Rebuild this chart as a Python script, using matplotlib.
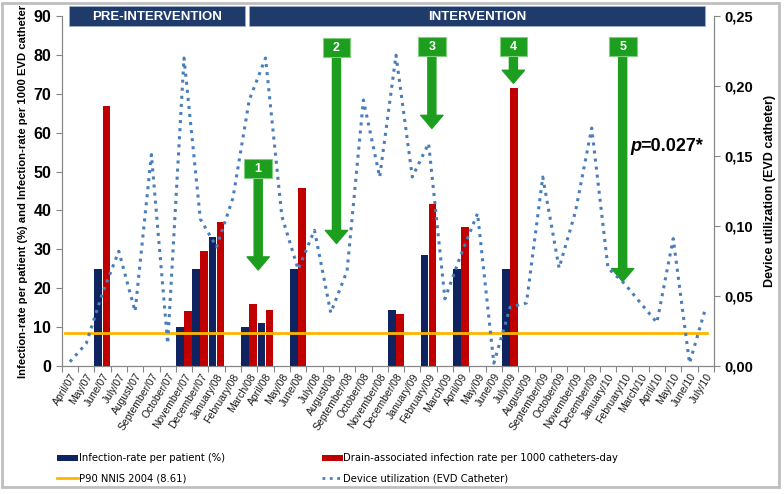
import matplotlib
matplotlib.use("Agg")
import matplotlib.pyplot as plt
from matplotlib.patches import Rectangle
from matplotlib.lines import Line2D
from matplotlib.ticker import FuncFormatter, MultipleLocator
import matplotlib.transforms as mtransforms
import numpy as np

# month labels (x axis)
months = ["April/07", "May/07", "June/07", "July/07", "August/07", "September/07",
          "October/07", "November/07", "December/07", "January/08", "February/08",
          "March/08", "April/08", "May/08", "June/08", "July/08", "August/08",
          "September/08", "October/08", "November/08", "December/08", "January/09",
          "February/09", "March/09", "April/09", "May/09", "June/09", "July/09",
          "August/09", "September/09", "October/09", "November/09", "December/09",
          "January/10", "February/10", "March/10", "April/10", "May/10", "June/10",
          "July/10"]

# infection-rate per patient (%)
rate_patient = [0, 0, 25, 0, 0, 0, 0, 10, 25, 33.3, 0, 10, 11.1, 0, 25, 0, 0, 0, 0, 0,
                14.3, 0, 28.6, 0, 25, 0, 0, 25, 0, 0, 0, 0, 0, 0, 0, 0, 0, 0, 0, 0]

# drain-associated infection rate per 1000 catheter-days
rate_drain = [0, 0, 66.8, 0, 0, 0, 0, 14.1, 29.6, 37.1, 0, 16.0, 14.4, 0, 45.7, 0, 0, 0, 0, 0,
              13.5, 0, 41.6, 0, 35.8, 0, 0, 71.5, 0, 0, 0, 0, 0, 0, 0, 0, 0, 0, 0, 0]

# device utilization (right axis)
device_util = [0.003, 0.016, 0.052, 0.082, 0.039, 0.151, 0.016, 0.220, 0.105, 0.085,
               0.120, 0.190, 0.220, 0.107, 0.069, 0.097, 0.038, 0.068, 0.190, 0.135,
               0.222, 0.135, 0.159, 0.048, 0.080, 0.109, 0.002, 0.042, 0.045, 0.135,
               0.070, 0.110, 0.170, 0.070, 0.059, 0.045, 0.031, 0.091, 0.002, 0.042]

p90_nnis = 8.61

# numbered intervention arrows: x position, arrow tip, box top (left-axis units)
arrow_labels = ["1", "2", "3", "4", "5"]
arrow_x = [11.55, 16.35, 22.2, 27.2, 33.9]
arrow_tip = [24.7, 31.5, 61.1, 72.7, 21.7]
box_top = [53.2, 84.3, 84.6, 84.6, 84.6]

navy = '#0F2361'
red = '#C00000'
orange = '#FFB400'
blue_dot = '#4A7EBB'
green = '#1E9E1E'

plt.rcParams['font.family'] = ['Liberation Sans', 'DejaVu Sans']

fig = plt.figure(figsize=(7.84, 4.94), dpi=100)
ax = fig.add_axes([0.0787, 0.2591, 0.832, 0.7085])
ax2 = ax.twinx()

x = np.arange(len(months))
ax.bar(x - 0.26, rate_patient, width=0.46, color=navy, zorder=3)
ax.bar(x + 0.24, rate_drain, width=0.46, color=red, zorder=3)
ax.axhline(p90_nnis, xmin=0.005, xmax=0.99, color=orange, linewidth=2, zorder=4)
ax2.plot(x, device_util, color=blue_dot, linestyle=':', linewidth=2.2, zorder=2)

ax.set_xlim(-0.5, len(months) - 0.5)
ax.set_ylim(0, 90)
ax2.set_ylim(0, 0.25)
ax.yaxis.set_major_locator(MultipleLocator(10))
ax2.yaxis.set_major_locator(MultipleLocator(0.05))
ax2.yaxis.set_major_formatter(FuncFormatter(lambda v, p: f"{v:.2f}".replace('.', ',')))

# ticks at category boundaries, labels centred under each month
ax.set_xticks(np.arange(-0.5, len(months), 1.0))
ax.set_xticklabels([])
ax.set_xticks(x, minor=True)
ax.set_xticklabels(months, minor=True, rotation=58, ha='right', rotation_mode='anchor',
                   fontsize=7.5, color='#1a1a1a')
ax.tick_params(axis='x', which='major', length=4, color='#868686')
ax.tick_params(axis='x', which='minor', length=0, pad=4)
ax.tick_params(axis='y', length=4, color='#868686', labelsize=11.5)
ax2.tick_params(axis='y', length=4, color='#868686', labelsize=10.5)
for lab in ax.get_yticklabels() + ax2.get_yticklabels():
    lab.set_fontweight('bold')

for a in (ax, ax2):
    a.spines['top'].set_visible(False)
    for s in ('left', 'right', 'bottom'):
        a.spines[s].set_color('#868686')

ax.set_ylabel('Infection-rate per patient (%) and Infection-rate per 1000 EVD catheter',
              fontsize=8.1, fontweight='bold', labelpad=4)
ax2.set_ylabel('Device utilization (EVD catheter)', fontsize=9, fontweight='bold', labelpad=8)

# phase banners across the top
banner_tr = mtransforms.blended_transform_factory(ax.transData, fig.transFigure)
for x0, x1, txt in [(-0.03, 10.75, 'PRE-INTERVENTION'), (10.99, 38.97, 'INTERVENTION')]:
    ax.add_patch(Rectangle((x0, 1 - 26.5 / 494), x1 - x0, 20.5 / 494, transform=banner_tr,
                           facecolor='#1F3B6B', edgecolor='#9DB0CC', linewidth=0.6,
                           clip_on=False, zorder=6))
    ax.text((x0 + x1) / 2, 1 - 16.5 / 494, txt, transform=banner_tr, ha='center', va='center',
            color='white', fontsize=9.5, fontweight='bold', zorder=7)

# numbered green arrows
for lab, xa, tip, top in zip(arrow_labels, arrow_x, arrow_tip, box_top):
    bottom = top - 4.9
    ax.annotate('', xy=(xa, tip), xytext=(xa, bottom + 0.3),
                arrowprops=dict(arrowstyle='simple,head_length=0.47,head_width=0.8,tail_width=0.29',
                                mutation_scale=20, color=green, shrinkA=0, shrinkB=0),
                zorder=8)
    ax.add_patch(Rectangle((xa - 0.85, bottom), 1.7, 4.9, facecolor=green,
                           edgecolor='#7FCF7F', linewidth=0.8, zorder=9))
    ax.text(xa, bottom + 2.45, lab, ha='center', va='center', color='white',
            fontsize=9, fontweight='bold', zorder=10)

ax.text(34.4, 56.4, 'p', style='italic', fontweight='bold', fontsize=13,
        ha='left', va='center', zorder=10)
ax.text(35.0, 56.4, '=0.027*', fontweight='bold', fontsize=13, ha='left', va='center', zorder=10)

# legend drawn by hand below the axis labels
def fy(py):
    return 1 - py / 494

def fx(px):
    return px / 784

fig.patches.append(Rectangle((fx(57), fy(461)), fx(21) , 6 / 494, transform=fig.transFigure,
                             facecolor=navy, edgecolor='none'))
fig.patches.append(Rectangle((fx(322), fy(461)), fx(21), 6 / 494, transform=fig.transFigure,
                             facecolor=red, edgecolor='none'))
fig.lines.append(Line2D([fx(57), fx(78)], [fy(478), fy(478)], transform=fig.transFigure,
                        color=orange, linewidth=2))
fig.lines.append(Line2D([fx(322), fx(342)], [fy(478), fy(478)], transform=fig.transFigure,
                        color=blue_dot, linewidth=2, linestyle=':'))
for px, py, txt in [(79, 458, 'Infection-rate per patient (%)'),
                    (343, 458, 'Drain-associated infection rate per 1000 catheters-day'),
                    (79, 478, 'P90 NNIS 2004 (8.61)'),
                    (343, 478, 'Device utilization (EVD Catheter)')]:
    fig.text(fx(px), fy(py), txt, ha='left', va='center', fontsize=8,
             family='DejaVu Sans', fontstretch='condensed')

# light grey frame around the whole chart
fig.patches.append(Rectangle((fx(2), fy(487)), fx(777), 484 / 494, transform=fig.transFigure,
                             facecolor='none', edgecolor='#BFBFBF', linewidth=2))

fig.savefig('out.png', dpi=100)
